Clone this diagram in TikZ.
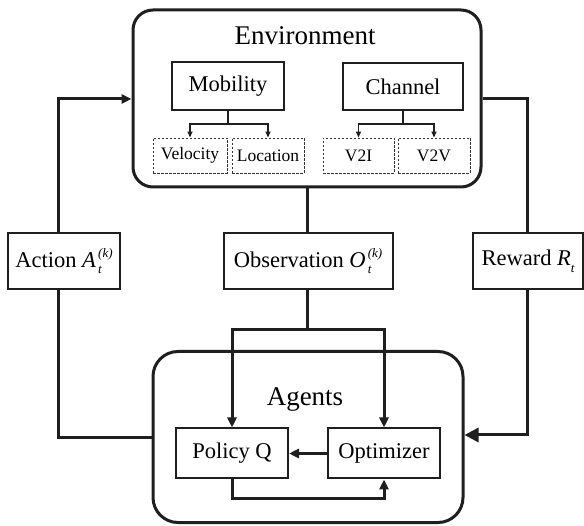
\documentclass[tikz,border=0pt]{standalone}
\usepackage{fontspec}
\setmainfont{Liberation Serif}
\newfontfamily\tnr{Liberation Serif}
\usetikzlibrary{arrows.meta}
\newcommand{\mysubsup}[3]{\textit{#1}\rlap{\raisebox{-0.3em}{\fontsize{13}{13}\selectfont\itshape\,#2}}\raisebox{0.45em}{\fontsize{13}{13}\selectfont\itshape\,#3}}
\begin{document}
\begin{tikzpicture}[x=1pt,y=-1pt,
  bigbox/.style={draw=black!88,line width=3pt,rounded corners=20pt,inner sep=0pt},
  midbox/.style={draw=black!88,line width=2pt,inner sep=0pt,font=\tnr\fontsize{22.5}{24}\selectfont},
  smallbox/.style={draw=black!80,line width=0.9pt,dashed,dash pattern=on 2.5pt off 1.5pt,inner sep=0pt,font=\tnr\fontsize{17.5}{19}\selectfont},
  title/.style={font=\tnr\fontsize{27}{29}\selectfont,inner sep=0pt},
  conn/.style={draw=black!88,line width=3pt},
  thin/.style={draw=black!88,line width=1.5pt},
  arr/.style={-{Triangle[length=10pt,width=9pt]}},
  sarr/.style={-{Triangle[length=6pt,width=5pt]}},
  barr/.style={-{Triangle[length=14pt,width=14pt]}}]
\useasboundingbox (0,0) rectangle (584,526);
% Environment
\node[bigbox,minimum width=348pt,minimum height=177pt] (env) at (307,98.5) {};
\node[title] (envt) at (305,36) {Environment};
\node[midbox,minimum width=112pt,minimum height=48pt] (mob) at (228,86) {Mobility};
\node[midbox,minimum width=120pt,minimum height=47pt] (chan) at (403,86.5) {Channel};
\node[smallbox,minimum width=74pt,minimum height=35pt] (vel) at (190,155.5) {Velocity};
\node[smallbox,minimum width=72pt,minimum height=35pt] (loc) at (268,155.5) {Location};
\node[smallbox,minimum width=71pt,minimum height=35pt] (v2i) at (358.5,155.5) {V2I};
\node[smallbox,minimum width=72pt,minimum height=35pt] (v2v) at (434,155.5) {V2V};
\coordinate (mj) at (228,124);
\coordinate (cj) at (403,124);
\draw[thin] (mob.south) -- (mj);
\draw[thin,sarr] (mj) -| (vel.north);
\draw[thin,sarr] (mj) -| (loc.north);
\draw[thin] (chan.south) -- (cj);
\draw[thin,sarr] (cj) -| (v2i.north);
\draw[thin,sarr] (cj) -| (v2v.north);
% middle labels
\node[midbox,minimum width=112pt,minimum height=56pt] (act) at (64,261) {Action \mysubsup{A}{t}{(k)}};
\node[midbox,minimum width=169pt,minimum height=56pt] (obs) at (308,261) {Observation \mysubsup{O}{t}{(k)}};
\node[midbox,minimum width=110pt,minimum height=56pt] (rew) at (528,261) {Reward \textit{R}\raisebox{-0.3em}{\fontsize{13}{13}\selectfont\itshape t}};
% Agents
\node[bigbox,rounded corners=25pt,minimum width=310pt,minimum height=171pt] (ag) at (308,437) {};
\node[title] (agt) at (305,400) {Agents};
\node[midbox,minimum width=112pt,minimum height=50pt] (pol) at (232,453.5) {Policy Q};
\node[midbox,minimum width=112pt,minimum height=50pt] (opt) at (384,453.5) {Optimizer};
% connectors
\coordinate (oj) at (307,330);
\draw[conn] (env.south -| oj) -- (obs.north -| oj);
\draw[conn] (obs.south -| oj) -- (oj);
\draw[conn,arr] (oj) -| (pol.north);
\draw[conn,arr] (oj) -| (opt.north);
\draw[conn,arr] (opt.west) -- (pol.east);
\coordinate (lb) at (232,499);
\draw[conn,arr] (pol.south) -- (lb) -| (opt.south);
% action loop
\coordinate (al) at (58,438);
\coordinate (au) at (58,99);
\draw[conn] (ag.west |- al) -- (al) -- (act.south -| al);
\draw[conn,arr] (act.north -| au) -- (au) -- (env.west |- au);
% reward loop
\coordinate (ru) at (527,99);
\coordinate (rl) at (527,435);
\draw[conn] (env.east |- ru) -- (ru) -- (rew.north -| ru);
\draw[conn,barr] (rew.south -| rl) -- (rl) -- (ag.east |- rl);
\end{tikzpicture}
\end{document}
